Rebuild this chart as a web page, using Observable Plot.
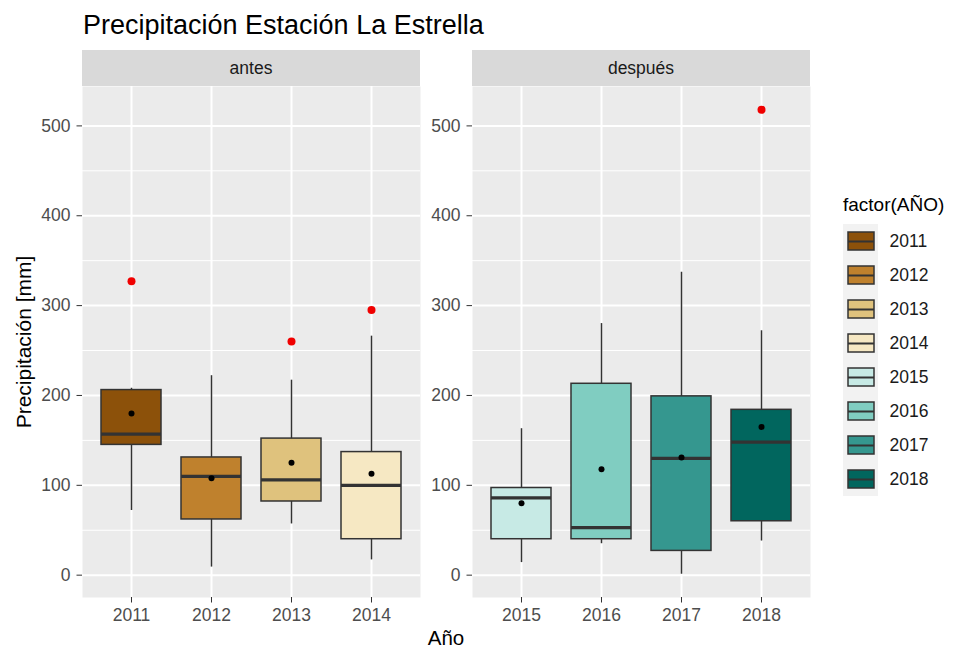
<!DOCTYPE html>
<html><head><meta charset="utf-8">
<script src="https://cdn.jsdelivr.net/npm/d3@7"></script>
<script src="https://cdn.jsdelivr.net/npm/@observablehq/plot@0.6"></script>
<style>
body{margin:0;background:#fff;font-family:"Liberation Sans",Arial,sans-serif;}
#root{position:relative;width:975px;height:650px;overflow:hidden;background:#fff;}
.abs{position:absolute;line-height:1;white-space:nowrap;}
.strip{position:absolute;background:#D9D9D9;color:#1A1A1A;font-size:17.5px;text-align:center;line-height:36px;height:36px;}
</style></head><body><div id="root"></div>
<script>
// ---- data ----
const periods = ["antes", "después"];
const antesYears = ["2011", "2012", "2013", "2014"];
const despuesYears = ["2015", "2016", "2017", "2018"];
const years = antesYears.concat(despuesYears);
const whiskerLow  = [72,   9,  57,  17,  14,  35,   1,  38];
const q1          = [145,  62,  82,  40,  40,  40,  27,  60];
const median      = [157, 110, 106, 100,  86,  53, 130, 148];
const q3          = [206, 131, 152, 137,  97, 213, 199, 184];
const whiskerHigh = [208, 222, 217, 266, 163, 280, 337, 272];
const means       = [180, 108, 125, 113,  80, 118, 131, 165];
const outlierYears  = ["2011", "2013", "2014", "2018"];
const outlierValues = [327, 260, 295, 518];
const colors = ["#8C510A", "#BF812D", "#DFC27D", "#F6E8C3", "#C7EAE5", "#80CDC1", "#35978F", "#01665E"];
const yTicks = [0, 100, 200, 300, 400, 500];
const yMinor = [50, 150, 250, 350, 450];

// ---- tables ----
const rows = years.map((y, i) => ({year: y, lo: whiskerLow[i], q1: q1[i], med: median[i], q3: q3[i], hi: whiskerHigh[i], mean: means[i]}));
const outliers = outlierYears.map((y, i) => ({year: y, value: outlierValues[i]}));
const allVals = whiskerLow.concat(whiskerHigh, outlierValues);
const vmin = d3.min(allVals), vmax = d3.max(allVals), pad = (vmax - vmin) * 0.05;
const yDomain = [vmin - pad, vmax + pad];

const root = document.getElementById("root");
const FONT = "'Liberation Sans', Arial, sans-serif";

function panel(groupYears, marginLeft) {
  const data = rows.filter(d => groupYears.includes(d.year));
  const outs = outliers.filter(d => groupYears.includes(d.year));
  return Plot.plot({
    width: marginLeft + 338, height: 580,
    marginLeft, marginRight: 0, marginTop: 36, marginBottom: 33,
    style: {fontFamily: FONT, fontSize: "17.5px", background: "transparent", overflow: "visible"},
    x: {domain: groupYears, paddingInner: 0.25, paddingOuter: 0.225, align: 0.5, axis: null},
    y: {domain: yDomain, axis: null},
    color: {domain: years, range: colors},
    marks: [
      Plot.frame({fill: "#EBEBEB", stroke: "none"}),
      Plot.gridY(yMinor, {stroke: "#fff", strokeOpacity: 1, strokeWidth: 1}),
      Plot.gridY(yTicks, {stroke: "#fff", strokeOpacity: 1, strokeWidth: 2}),
      Plot.gridX(groupYears, {stroke: "#fff", strokeOpacity: 1, strokeWidth: 2}),
      Plot.ruleX(data, {x: "year", y1: "lo", y2: "hi", stroke: "#333", strokeWidth: 1.5}),
      Plot.barY(data, {x: "year", y1: "q1", y2: "q3", fill: "year", stroke: "#333", strokeWidth: 1.5}),
      Plot.tickY(data, {x: "year", y: "med", stroke: "#333", strokeWidth: 3.2}),
      Plot.dot(data, {x: "year", y: "mean", r: 3, fill: "black", stroke: "none"}),
      Plot.dot(outs, {x: "year", y: "value", r: 4, fill: "#F00000", stroke: "none"}),
      Plot.axisY(yTicks, {tickSize: 5.5, tickPadding: 6.5, fill: "#4D4D4D", stroke: "#333", strokeWidth: 1, fontSize: 17.5, label: null}),
      Plot.axisX({tickSize: 5.5, tickPadding: 6, fill: "#4D4D4D", stroke: "#333", strokeWidth: 1, fontSize: 17.5, label: null})
    ]
  });
}

function place(el, left, top) {
  el.style.position = "absolute";
  el.style.left = left + "px";
  el.style.top = top + "px";
  root.appendChild(el);
  return el;
}

place(panel(antesYears, 82), 0, 50);
place(panel(despuesYears, 52), 420, 50);

// strips
[[periods[0], 82], [periods[1], 472]].forEach(([label, left]) => {
  const s = document.createElement("div");
  s.className = "strip";
  s.style.width = "338px";
  s.textContent = label;
  place(s, left, 50);
});

// title
const title = document.createElement("div");
title.className = "abs";
title.style.fontSize = "27px";
title.style.color = "#000";
title.textContent = "Precipitación Estación La Estrella";
place(title, 83, 12);

// x axis title
const xt = document.createElement("div");
xt.className = "abs";
xt.style.fontSize = "20.5px";
xt.style.width = "728px";
xt.style.textAlign = "center";
xt.style.color = "#000";
xt.textContent = "Año";
place(xt, 82, 628);

// y axis title
const yt = document.createElement("div");
yt.className = "abs";
yt.style.fontSize = "21px";
yt.style.color = "#000";
yt.style.transform = "translate(-50%,-50%) rotate(-90deg)";
yt.textContent = "Precipitación [mm]";
place(yt, 23, 342);

// legend title
const lt = document.createElement("div");
lt.className = "abs";
lt.style.fontSize = "19px";
lt.style.color = "#000";
lt.textContent = "factor(AÑO)";
place(lt, 843, 195);

// legend keys
const legendRows = years.map(y => ({key: "k", year: y}));
const legend = Plot.plot({
  width: 132, height: 278, marginLeft: 0, marginRight: 97, marginTop: 0, marginBottom: 0,
  style: {fontFamily: FONT, fontSize: "17.5px", background: "transparent", overflow: "visible"},
  x: {domain: ["k"], padding: 0, axis: null},
  y: {domain: years, padding: 0, axis: null},
  color: {domain: years, range: colors},
  marks: [
    Plot.cell(legendRows, {x: "key", y: "year", fill: "#F2F2F2"}),
    Plot.ruleX(legendRows, {x: "key", y: "year", stroke: "#333", strokeWidth: 1.5, insetTop: 2, insetBottom: 2}),
    Plot.cell(legendRows, {x: "key", y: "year", fill: "year", stroke: "#333", strokeWidth: 1.5, insetLeft: 5, insetRight: 4, insetTop: 8, insetBottom: 8}),
    Plot.ruleY(legendRows, {y: "year", stroke: "#333", strokeWidth: 2, insetLeft: 5, insetRight: 4}),
    Plot.text(legendRows, {y: "year", text: "year", frameAnchor: "right", dx: 11, textAnchor: "start", fill: "#1A1A1A", fontSize: 17.5})
  ]
});
place(legend, 843, 221);
</script></body></html>
